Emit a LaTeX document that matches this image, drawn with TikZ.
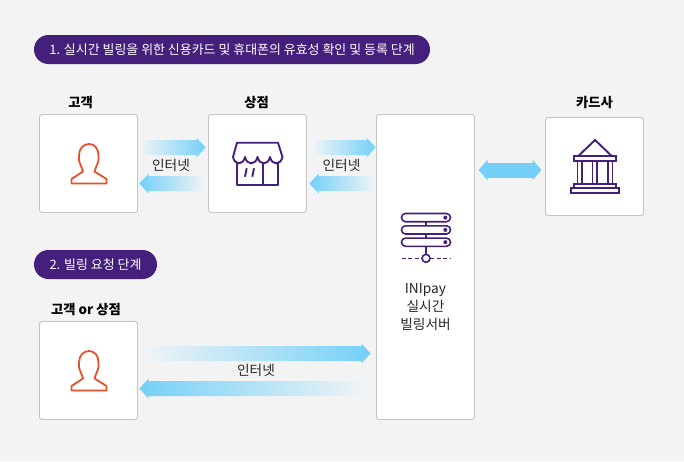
\documentclass[tikz,border=0pt]{standalone}
\usepackage{fontspec}
\setmainfont{Noto Sans CJK KR}
\usepackage{tikz}
\usetikzlibrary{arrows.meta,positioning,calc}
\definecolor{inibg}{HTML}{F3F3F3}
\definecolor{inipurple}{HTML}{451F7C}
\definecolor{iniorange}{HTML}{E8502A}
\definecolor{iniblue}{HTML}{74D0F8}
\definecolor{inifade}{HTML}{F1F4F6}
\definecolor{iniline}{HTML}{C4C4C4}
\newcommand{\flowdir}{1}
\newcommand{\flowarrow}[3]{%
  \shade[#3] ($#1+(0,7.5)$) -- ($#2+(-9*\flowdir,7.5)$) -- ($#2+(-9*\flowdir,10)$) -- #2 -- ($#2+(-9*\flowdir,-10)$) -- ($#2+(-9*\flowdir,-7.5)$) -- ($#1+(0,-7.5)$) -- cycle;}
\begin{document}
\begin{tikzpicture}[
    x=1pt, y=1pt,
    cardbox/.style={draw=iniline, fill=white, rectangle, rounded corners=2.5pt, minimum width=98pt, minimum height=98pt, outer sep=0pt, line width=0.9pt},
    pill/.style={fill=inipurple, rectangle, rounded corners=14.5pt, minimum height=29pt, inner sep=0pt, text=white, font=\fontsize{12.95}{14}\selectfont},
    titlelabel/.style={font=\fontsize{13.3}{15}\selectfont\bfseries, text=black, inner sep=0pt},
    netlabel/.style={font=\fontsize{13.7}{15}\selectfont, text=black!85, inner sep=0pt},
    toright/.style={left color=inifade, right color=iniblue},
    toleft/.style={left color=iniblue, right color=inifade},
    dblarrow/.style={{Triangle[width=20pt,length=9pt]}-{Triangle[width=20pt,length=9pt]}, draw=iniblue, line width=15pt, shorten <=4pt, shorten >=4pt},
    purpleicon/.style={draw=inipurple, line width=1.9pt},
    usericon/.pic={
      \draw[draw=iniorange, line width=1.8pt, line join=round] (-17,-20) -- (18,-20) -- (18,-15.5) -- (6,-8) .. controls (7,-4) and (9,-1) .. (10,3) -- (10,8) .. controls (10,15) and (6,19.5) .. (0.5,19.5) .. controls (-5,19.5) and (-9.5,15) .. (-9.5,8) -- (-9.5,3) .. controls (-8.5,-1) and (-6.5,-4) .. (-5.5,-8) -- (-17,-15.5) -- cycle;
    }
  ]
    \fill[inibg] (0,0) rectangle (684,-461);
    \useasboundingbox (0,0) rectangle (684,-461);
    \node[pill, minimum width=396pt] (step1) at (232,-49.5) {1. 실시간 빌링을 위한 신용카드 및 휴대폰의 유효성 확인 및 등록 단계};
    \node[pill, minimum width=123pt] (step2) at (95.5,-264.5) {2. 빌링 요청 단계};
    \node[cardbox] (cust) at (88.5,-163.5) {};
    \node[cardbox, right=71pt of cust] (shop) {};
    \node[cardbox, minimum height=305pt] (server) at (425.5,-267) {};
    \node[cardbox] (card) at (594.5,-166.5) {};
    \node[cardbox, below=109pt of cust] (cust2) {};
    \node[titlelabel, above=6pt of cust, xshift=-8pt] (custname) {고객};
    \node[titlelabel, above=6pt of shop, xshift=-1pt] (shopname) {상점};
    \node[titlelabel, above=9pt of card] (cardname) {카드사};
    \node[titlelabel, above=6pt of cust2, xshift=-2.5pt] (cust2name) {고객 or 상점};
    \node[netlabel, align=center, font=\fontsize{13.7}{18}\selectfont] (servername) at (425.5,-307) {INIpay\\실시간\\빌링서버};
    \coordinate (srvtop) at (server.west |- shop.east);
    \coordinate (srvbot) at (server.west |- cust2.east);
    \coordinate (cardmid) at ([yshift=-3.5pt]card.west);
    \renewcommand{\flowdir}{1}
    \flowarrow{([xshift=2pt,yshift=16pt]cust.east)}{([xshift=-3pt,yshift=16pt]shop.west)}{toright}
    \flowarrow{([xshift=5pt,yshift=16pt]shop.east)}{([xshift=-1pt,yshift=16pt]srvtop)}{toright}
    \flowarrow{([xshift=5pt,yshift=17pt]cust2.east)}{([xshift=-6pt,yshift=17pt]srvbot)}{toright}
    \renewcommand{\flowdir}{-1}
    \flowarrow{([xshift=-3pt,yshift=-20pt]shop.west)}{([xshift=2pt,yshift=-20pt]cust.east)}{toleft}
    \flowarrow{([xshift=-1pt,yshift=-20pt]srvtop)}{([xshift=3pt,yshift=-20pt]shop.east)}{toleft}
    \flowarrow{([xshift=-9pt,yshift=-18pt]srvbot)}{([xshift=2pt,yshift=-18pt]cust2.east)}{toleft}
    \draw[dblarrow] (server.east |- cardmid) -- (cardmid);
    \path (cust.east) -- node[netlabel, xshift=-2pt, yshift=-2pt] (net1) {인터넷} (shop.west);
    \path (shop.east) -- node[netlabel, yshift=-2pt] (net2) {인터넷} (srvtop);
    \path (cust2.east) -- node[netlabel, xshift=-1pt] (net3) {인터넷} (srvbot);
    \pic at (cust.center) {usericon};
    \pic at (cust2.center) {usericon};
    \begin{scope}[shift={(shop.center)}, line join=round]
      \draw[purpleicon] (-20.5,20.8) -- (20.5,20.8) -- (25,6.5) .. controls (23,-2) and (14.5,-2) .. (12.5,6.5) .. controls (10.5,-2) and (2,-2) .. (0,6.5) .. controls (-2,-2) and (-10.5,-2) .. (-12.5,6.5) .. controls (-14.5,-2) and (-22.5,-2) .. (-24.5,6.5) -- cycle;
      \draw[purpleicon] (-20.5,2) -- (-20.5,-21.5) -- (20.5,-21.5) -- (20.5,2);
      \draw[purpleicon] (5.8,2) -- (5.8,-21.5);
      \draw[purpleicon] (-12.5,-13.2) -- (-10.8,-4.8);
      \draw[purpleicon] (-5.2,-13.2) -- (-3.5,-4.8);
    \end{scope}
    \begin{scope}[shift={(card.center)}, line join=miter]
      \draw[purpleicon] (-16.2,10.5) -- (0.5,26.5) -- (17.2,10.5);
      \draw[purpleicon] (-20.5,10.5) rectangle (21.5,5.8);
      \foreach \colx in {-17,-2,13.5} {
        \draw[purpleicon] (\colx,5.8) rectangle ++(4.5,-23);
      }
      \draw[purpleicon] (-20.5,-17.2) rectangle (21.5,-21.8);
      \draw[purpleicon] (-23.8,-21.8) rectangle (24.8,-26.8);
    \end{scope}
    \begin{scope}[shift={(server.center)}]
      \foreach \rowy in {45.3,33,20.7} {
        \draw[purpleicon, line width=1.6pt, rounded corners=4pt] (-24,\rowy) rectangle (25,\rowy+8.2);
        \fill[inipurple] (19.8,\rowy+4.1) circle (2pt);
      }
      \draw[purpleicon, line width=1.6pt] (0.5,45.3) -- (0.5,41.2);
      \draw[purpleicon, line width=1.6pt] (0.5,33) -- (0.5,28.9);
      \draw[purpleicon, line width=1.6pt] (0.5,20.7) -- (0.5,12.7);
      \draw[purpleicon, line width=1.6pt] (0.5,8.7) circle (4pt);
      \draw[purpleicon, line width=1.6pt, dash pattern=on 4pt off 2.5pt] (-24,8.7) -- (-3.5,8.7);
      \draw[purpleicon, line width=1.6pt, dash pattern=on 4pt off 2.5pt] (4.5,8.7) -- (25,8.7);
    \end{scope}
  \end{tikzpicture}
\end{document}
